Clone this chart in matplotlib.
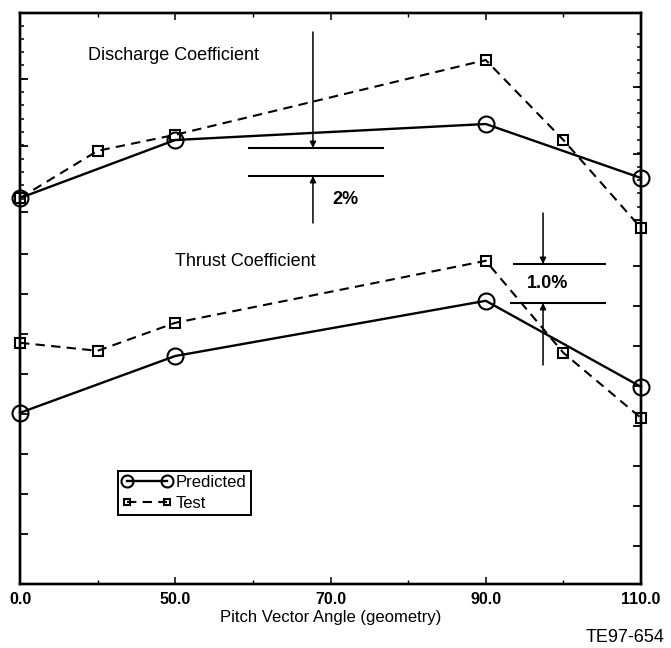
import numpy as np
import matplotlib
matplotlib.use("Agg")
import matplotlib.pyplot as plt

plt.rcParams['font.family'] = ['Liberation Sans', 'DejaVu Sans']

# Pitch vector angle axis: labelled stations, evenly spaced on the plot
tick_angles = [0.0, 50.0, 70.0, 90.0, 110.0]
tick_labels = ["0.0", "50.0", "70.0", "90.0", "110.0"]

# Sample angles for each series
pred_angles = [0.0, 50.0, 90.0, 110.0]
test_angles = [0.0, 25.0, 50.0, 90.0, 100.0, 110.0]

# Coefficient values (plot units; curves are offset vertically)
discharge_pred = [9.65, 11.10, 11.50, 10.15]
discharge_test = [9.65, 10.83, 11.23, 13.10, 11.10, 8.90]
thrust_pred = [4.28, 5.70, 7.08, 4.93]
thrust_test = [6.03, 5.83, 6.53, 8.08, 5.78, 4.15]

# Scale brackets: 2% on discharge, 1.0% on thrust
discharge_2pct = 0.70
thrust_1pct = 0.975


def angle_pos(a):
    return np.interp(a, tick_angles, np.arange(len(tick_angles)))


fig = plt.figure(figsize=(6.71, 6.48), dpi=100)
ax = fig.add_axes([20 / 671, 1 - 584 / 648, 621 / 671, 571 / 648])
ax.set_xlim(0, 4)
ax.set_ylim(0, 14.275)

xp = angle_pos(pred_angles)
xt = angle_pos(test_angles)

pred_style = dict(color='black', lw=1.7, ls='-', marker='o', ms=11.5,
                  mfc='none', mec='black', mew=1.5, clip_on=False, zorder=3)
test_style = dict(color='black', lw=1.5, ls=(0, (4.5, 3)), marker='s', ms=6.5,
                  mfc='none', mec='black', mew=1.5, clip_on=False, zorder=3)

l_pred, = ax.plot(xp, discharge_pred, **pred_style)
l_test, = ax.plot(xt, discharge_test, **test_style)
ax.plot(xp, thrust_pred, **pred_style)
ax.plot(xt, thrust_test, **test_style)

# Curve titles
ax.text(0.438, 13.225, "Discharge Coefficient", fontsize=13, va='center', ha='left')
ax.text(0.998, 8.075, "Thrust Coefficient", fontsize=13, va='center', ha='left')

arrow = dict(arrowstyle='-|>', mutation_scale=9, lw=1.1, color='black',
             shrinkA=0, shrinkB=0)

# Discharge 2% bracket
d_hi = 10.90
d_lo = d_hi - discharge_2pct
ax.hlines([d_hi, d_lo], 1.469, 2.345, color='black', lw=1.5)
ax.annotate("", xy=(1.887, d_hi), xytext=(1.887, 13.8), arrowprops=arrow)
ax.annotate("", xy=(1.887, d_lo), xytext=(1.887, 9.025), arrowprops=arrow)
ax.text(2.093, 9.6, "2%", fontsize=13, fontweight='bold', ha='center', va='center')

# Thrust 1.0% bracket
t_hi = 8.0
t_lo = t_hi - thrust_1pct
ax.hlines(t_hi, 3.175, 3.775, color='black', lw=1.5)
ax.hlines(t_lo, 3.155, 3.775, color='black', lw=1.5)
ax.annotate("", xy=(3.369, t_hi), xytext=(3.369, 9.275), arrowprops=arrow)
ax.annotate("", xy=(3.369, t_lo), xytext=(3.369, 5.475), arrowprops=arrow)
ax.text(3.40, (t_hi + t_lo) / 2, "1.0%", fontsize=13, fontweight='bold',
        ha='center', va='center')

# Axes frame and ticks
for s in ax.spines.values():
    s.set_linewidth(1.7)

ax.set_xticks(np.arange(len(tick_angles)))
ax.set_xticklabels(tick_labels, fontsize=11.5, fontweight='bold')
ax.set_xticks(np.arange(0.5, 4, 1.0), minor=True)
ax.tick_params(axis='x', which='major', direction='in', length=5, width=1.1,
               pad=6, top=True)
ax.tick_params(axis='x', which='minor', direction='in', length=3, width=1.0, top=True)

left_major = list(np.arange(1.25, 8.3, 1.0)) + [9.3, 10.95, 12.625]
left_minor = list(np.arange(9.3, 14.0, 0.333))
ax.set_yticks(left_major)
ax.set_yticks(left_minor, minor=True)
ax.set_yticklabels([])
ax.tick_params(axis='y', which='major', direction='in', length=6, width=1.3)
ax.tick_params(axis='y', which='minor', direction='in', length=3, width=1.1)

axr = ax.twinx()
axr.set_ylim(ax.get_ylim())
right_major = list(np.arange(0.95, 8.0, 1.0)) + [9.1, 10.75, 12.425]
right_minor = list(np.arange(9.1, 13.9, 0.333))
axr.set_yticks(right_major)
axr.set_yticks(right_minor, minor=True)
axr.set_yticklabels([])
axr.tick_params(axis='y', which='major', direction='in', length=6, width=1.3)
axr.tick_params(axis='y', which='minor', direction='in', length=3, width=1.1)
for s in axr.spines.values():
    s.set_linewidth(1.7)

ax.set_xlabel("Pitch Vector Angle (geometry)", fontsize=12, labelpad=2)

leg = ax.legend([l_pred, l_test], ["Predicted", "Test"], loc='upper left',
                bbox_to_anchor=(0.158, 0.198), fontsize=12, numpoints=2,
                handlelength=3.0, handletextpad=0.2, labelspacing=0.35,
                borderpad=0.25, borderaxespad=0, markerscale=0.75,
                frameon=True, fancybox=False, edgecolor='black', framealpha=1)
leg.get_frame().set_linewidth(1.4)

fig.text(664 / 671, 1 - 637 / 648, "TE97-654", fontsize=13, ha='right', va='center')

fig.savefig("out.png", dpi=100)
